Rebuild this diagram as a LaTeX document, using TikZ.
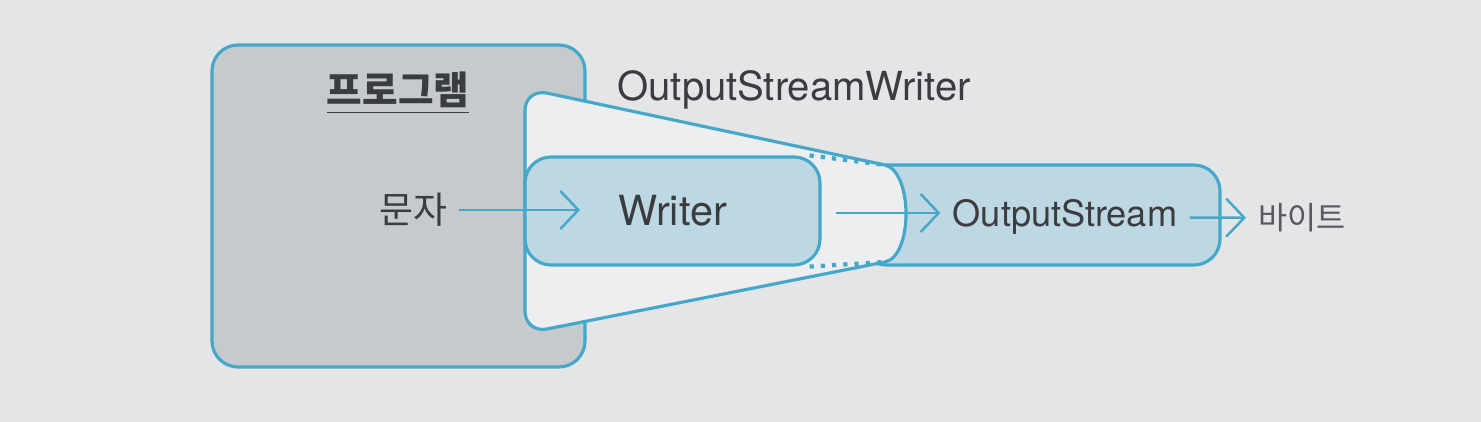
\documentclass[tikz,border=0pt]{standalone}
\usepackage{fontspec}
\setmainfont{TeX Gyre Heros}
\newfontfamily\kofont{Noto Sans CJK KR}
\usetikzlibrary{arrows.meta, positioning, calc}
\definecolor{paper}{HTML}{E3E5E7}
\definecolor{cyanline}{HTML}{45A8C8}
\definecolor{progfill}{HTML}{C7CACD}
\definecolor{wrapfill}{HTML}{ECEEF0}
\definecolor{streamfill}{HTML}{BDD8E2}
\definecolor{ink}{HTML}{3A3C3F}

\begin{document}
\begin{tikzpicture}[>={Straight Barb[length=1.8mm, width=3.8mm]}, font=\fontsize{11.8}{14}\selectfont, text=ink,
  box/.style={draw=cyanline, line width=0.9pt, rounded corners=2.6mm},
  flow/.style={->, draw=cyanline, line width=0.7pt}]
  \fill[paper] (0,0) rectangle (14.81,4.22);
  \useasboundingbox (0,0) rectangle (14.81,4.22);

  % Programm
  \node[box, fill=progfill, minimum width=3.73cm, minimum height=3.22cm] (prog) at (3.985,2.16) {};
  \node[font=\kofont\bfseries\fontsize{11}{13}\selectfont] (progname) at (3.98,3.29) {\underline{프로그램}};

  % OutputStream
  \node[box, fill=streamfill, minimum width=3.6cm, minimum height=1.0cm] (os) at (10.4,2.07) {};

  % OutputStreamWriter
  \coordinate (owtop) at (8.85,2.57);
  \coordinate (owbot) at (8.85,1.60);
  \draw[draw=cyanline, line width=0.9pt, fill=wrapfill] (5.47,3.289) -- (owtop)
    .. controls (9.13,2.50) and (9.13,1.66) .. (owbot) -- (5.47,0.930)
    .. controls (5.349,0.906) and (5.25,0.985) .. (5.25,1.106) -- (5.25,3.116)
    .. controls (5.25,3.237) and (5.349,3.315) .. (5.47,3.289) -- cycle;
  \node[box, fill=streamfill, minimum width=2.95cm, minimum height=1.08cm] (writer) at (6.725,2.11) {Writer};
  \draw[dotted, cyanline, line width=1.2pt] ($(writer.north east)+(-0.12,0)$) -- (owtop);
  \draw[dotted, cyanline, line width=1.2pt] ($(writer.south east)+(-0.12,0)$) -- (owbot);

  % Texte
  \node[font=\kofont\fontsize{10.5}{12}\selectfont] (munja) at (4.13,2.12) {문자};
  \node[font=\fontsize{11.4}{13}\selectfont, anchor=west] (owname) at (6.05,3.32) {OutputStreamWriter};
  \node[font=\fontsize{10.3}{12}\selectfont] (osname) at (10.65,2.05) {OutputStream};
  \node[font=\kofont\fontsize{9}{11}\selectfont, text=ink!85] (byte) at (13.02,2.04) {바이트};

  % Pfeile
  \coordinate (win) at (5.80,2.12);
  \coordinate (wout) at (8.36,2.09);
  \draw[flow] (munja) -- (win);
  \draw[flow] (wout) -- (wout -| osname.west);
  \draw[flow] (osname) -- (byte);
\end{tikzpicture}
\end{document}
